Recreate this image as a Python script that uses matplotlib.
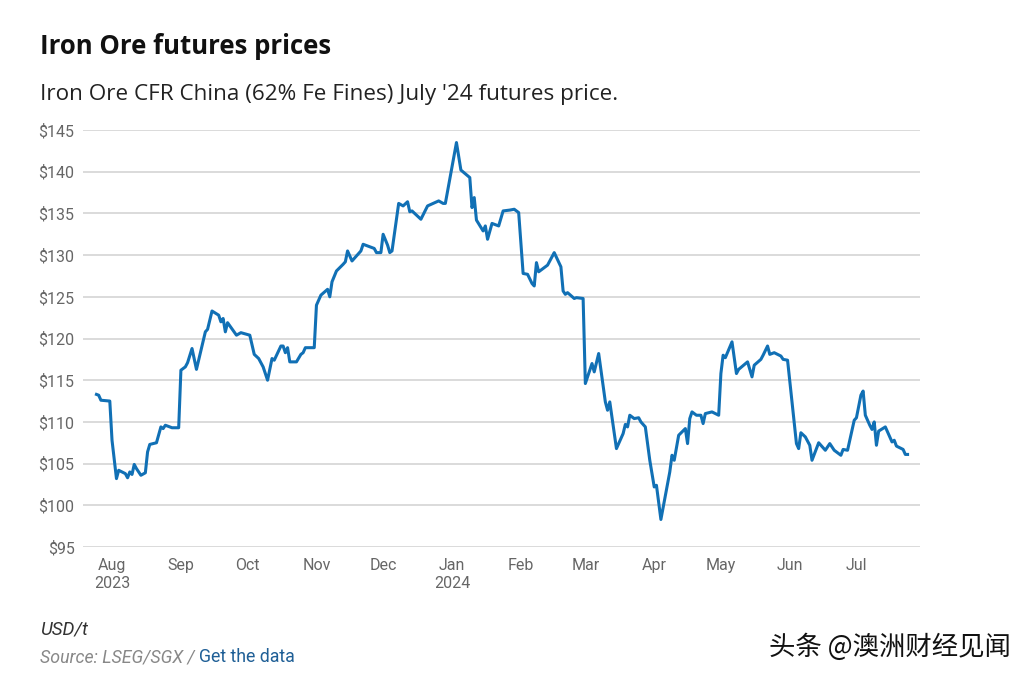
import matplotlib
matplotlib.use("Agg")
import matplotlib.pyplot as plt
import pandas as pd

dates = [
    "2023-07-25", "2023-07-26", "2023-07-27", "2023-07-31", "2023-08-01", "2023-08-03", "2023-08-04",
    "2023-08-07", "2023-08-08", "2023-08-09", "2023-08-10", "2023-08-11", "2023-08-12", "2023-08-14",
    "2023-08-16", "2023-08-17", "2023-08-18", "2023-08-21", "2023-08-23", "2023-08-24", "2023-08-25",
    "2023-08-28", "2023-08-31", "2023-09-01", "2023-09-03", "2023-09-04", "2023-09-06", "2023-09-08",
    "2023-09-12", "2023-09-13", "2023-09-15", "2023-09-18", "2023-09-19", "2023-09-20", "2023-09-21",
    "2023-09-22", "2023-09-26", "2023-09-28", "2023-10-02", "2023-10-04", "2023-10-06", "2023-10-08",
    "2023-10-10", "2023-10-12", "2023-10-13", "2023-10-16", "2023-10-17", "2023-10-18", "2023-10-19",
    "2023-10-20", "2023-10-23", "2023-10-25", "2023-10-26", "2023-10-27", "2023-10-31", "2023-11-01",
    "2023-11-03", "2023-11-06", "2023-11-07", "2023-11-08", "2023-11-10", "2023-11-13", "2023-11-14",
    "2023-11-15", "2023-11-17", "2023-11-21", "2023-11-22", "2023-11-24", "2023-11-27", "2023-11-28",
    "2023-11-30", "2023-12-01", "2023-12-03", "2023-12-04", "2023-12-05", "2023-12-08", "2023-12-10",
    "2023-12-12", "2023-12-13", "2023-12-14", "2023-12-18", "2023-12-21", "2023-12-26", "2023-12-28",
    "2023-12-29", "2024-01-03", "2024-01-05", "2024-01-09", "2024-01-10", "2024-01-11", "2024-01-12",
    "2024-01-15", "2024-01-16", "2024-01-17", "2024-01-19", "2024-01-22", "2024-01-24", "2024-01-27",
    "2024-01-29", "2024-01-31", "2024-02-02", "2024-02-04", "2024-02-06", "2024-02-07", "2024-02-08",
    "2024-02-09", "2024-02-13", "2024-02-16", "2024-02-19", "2024-02-20", "2024-02-21", "2024-02-22",
    "2024-02-25", "2024-02-26", "2024-02-29", "2024-03-01", "2024-03-04", "2024-03-05", "2024-03-07",
    "2024-03-10", "2024-03-11", "2024-03-12", "2024-03-15", "2024-03-18", "2024-03-19", "2024-03-20",
    "2024-03-21", "2024-03-23", "2024-03-25", "2024-03-26", "2024-03-28", "2024-03-30", "2024-04-01",
    "2024-04-02", "2024-04-04", "2024-04-08", "2024-04-09", "2024-04-10", "2024-04-12", "2024-04-15",
    "2024-04-16", "2024-04-17", "2024-04-18", "2024-04-20", "2024-04-22", "2024-04-23", "2024-04-24",
    "2024-04-27", "2024-04-30", "2024-05-01", "2024-05-02", "2024-05-03", "2024-05-06", "2024-05-08",
    "2024-05-09", "2024-05-13", "2024-05-15", "2024-05-16", "2024-05-19", "2024-05-20", "2024-05-22",
    "2024-05-23", "2024-05-25", "2024-05-28", "2024-05-29", "2024-05-31", "2024-06-04", "2024-06-05",
    "2024-06-06", "2024-06-08", "2024-06-10", "2024-06-11", "2024-06-14", "2024-06-17", "2024-06-19",
    "2024-06-21", "2024-06-24", "2024-06-25", "2024-06-27", "2024-06-30", "2024-07-01", "2024-07-03",
    "2024-07-04", "2024-07-05", "2024-07-07", "2024-07-08", "2024-07-09", "2024-07-10", "2024-07-11",
    "2024-07-14", "2024-07-17", "2024-07-18", "2024-07-19", "2024-07-22", "2024-07-23", "2024-07-24",
]
prices = [
    113.3, 113.2, 112.6, 112.5, 107.8, 103.2, 104.2,
    103.8, 103.3, 104.0, 103.7, 104.9, 104.4, 103.6,
    103.9, 106.4, 107.3, 107.5, 109.4, 109.2, 109.6,
    109.3, 109.3, 116.2, 116.6, 117.1, 118.8, 116.3,
    120.8, 121.1, 123.3, 122.8, 122.0, 122.4, 120.8,
    121.9, 120.4, 120.7, 120.4, 118.1, 117.6, 116.6,
    115.0, 117.6, 117.4, 119.1, 119.1, 118.3, 118.9,
    117.2, 117.2, 118.1, 118.3, 118.9, 118.9, 124.0,
    125.2, 125.9, 125.0, 126.8, 128.1, 128.9, 129.2,
    130.5, 129.3, 130.5, 131.3, 131.1, 130.8, 130.3,
    130.3, 132.5, 131.2, 130.3, 130.5, 136.2, 135.9,
    136.4, 135.2, 135.3, 134.3, 135.9, 136.5, 136.2,
    136.2, 143.5, 140.2, 139.3, 135.7, 136.9, 134.2,
    132.9, 133.5, 131.9, 133.8, 133.5, 135.3, 135.4,
    135.5, 135.1, 127.8, 127.7, 126.6, 126.3, 129.1,
    128.0, 128.8, 130.3, 128.6, 125.7, 125.3, 125.5,
    124.8, 124.9, 124.8, 114.6, 117.0, 116.0, 118.2,
    112.4, 111.4, 112.4, 106.8, 108.6, 109.7, 109.4,
    110.8, 110.4, 110.5, 110.0, 109.4, 105.4, 102.2,
    102.4, 98.3, 104.0, 106.0, 105.4, 108.4, 109.2,
    107.4, 110.4, 111.2, 110.8, 110.8, 109.8, 111.0,
    111.2, 110.8, 115.8, 118.0, 117.7, 119.6, 115.8,
    116.3, 117.2, 115.4, 116.8, 117.5, 118.0, 119.1,
    118.1, 118.3, 117.9, 117.5, 117.4, 107.4, 106.8,
    108.7, 108.2, 107.2, 105.4, 107.5, 106.6, 107.4,
    106.6, 106.0, 106.7, 106.6, 110.2, 110.5, 113.2,
    113.7, 110.8, 109.6, 109.1, 110.0, 107.2, 108.9,
    109.4, 107.6, 107.8, 107.1, 106.7, 106.1, 106.1,
]
y_ticks = [95, 100, 105, 110, 115, 120, 125, 130, 135, 140, 145]
month_ticks = ["2023-08-01", "2023-09-01", "2023-10-01", "2023-11-01", "2023-12-01", "2024-01-01",
               "2024-02-01", "2024-03-01", "2024-04-01", "2024-05-01", "2024-06-01", "2024-07-01"]
month_labels = ["Aug\n2023", "Sep", "Oct", "Nov", "Dec", "Jan\n2024",
                "Feb", "Mar", "Apr", "May", "Jun", "Jul"]

plt.rcParams['font.family'] = ['Roboto', 'DejaVu Sans']

fig = plt.figure(figsize=(10.24, 6.79), dpi=100)
ax = fig.add_axes([0.081, 0.1944, 0.8174, 0.6141])

x = pd.to_datetime(dates)
ax.plot(x, prices, color='#1170b5', lw=2.2, solid_joinstyle='round', clip_on=False, zorder=3)

ax.set_ylim(95, 145)
ax.set_xlim(pd.Timestamp("2023-07-18 22:00"), pd.Timestamp("2024-07-29 14:00"))
ax.set_yticks(y_ticks)
ax.set_yticklabels([f"${v}" for v in y_ticks])
ax.set_xticks(pd.to_datetime(month_ticks))
ax.set_xticklabels(month_labels)
ax.grid(axis='y', color='#d4d4d4', lw=1.2)
ax.set_axisbelow(True)
for s in ax.spines.values():
    s.set_visible(False)
ax.tick_params(axis='both', length=0, labelsize=11.5, colors='#666666')
ax.tick_params(axis='y', pad=6)
ax.tick_params(axis='x', pad=8)
for lbl in ax.get_xticklabels():
    lbl.set_linespacing(1.25)
    lbl.set_verticalalignment('top')

fig.text(0.039, 0.931, "Iron Ore futures prices", fontsize=18.5, fontweight='bold',
         family=['Open Sans', 'DejaVu Sans'], color='#111111', va='center', ha='left')
fig.text(0.039, 0.861, "Iron Ore CFR China (62% Fe Fines) July '24 futures price.",
         fontsize=16.2, family=['Open Sans', 'DejaVu Sans'], color='#222222', va='center', ha='left')
fig.text(0.039, 0.073, "USD/t", fontsize=13.5, style='italic', color='#333333', va='center', ha='left')
t = fig.text(0.039, 0.032, "Source: LSEG/SGX / ", fontsize=12.8, style='italic', color='#888888',
             va='center', ha='left')
fig.canvas.draw()
bb = t.get_window_extent()
fig.text(bb.x1 / fig.bbox.width, 0.032, "Get the data", fontsize=12.8, color='#1f5f96',
         va='center', ha='left')
fig.text(0.987, 0.047, "头条 @澳洲财经见闻", fontsize=19,
         family=['Noto Sans CJK SC', 'DejaVu Sans'], color='#111111', va='center', ha='right')

fig.savefig("out.png", dpi=100, facecolor='white')
